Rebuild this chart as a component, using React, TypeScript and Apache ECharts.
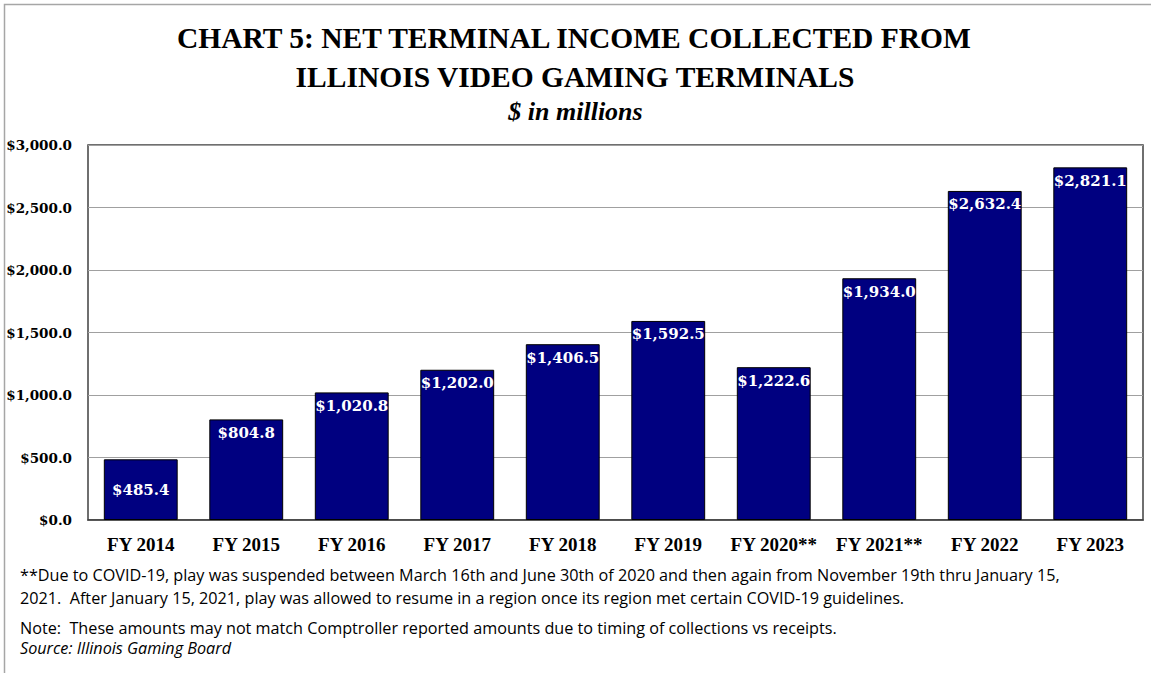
import React, { useEffect, useRef } from "react";
import * as echarts from "echarts";

const categories = ["FY 2014", "FY 2015", "FY 2016", "FY 2017", "FY 2018", "FY 2019", "FY 2020**", "FY 2021**", "FY 2022", "FY 2023"];
const values = [485.4, 804.8, 1020.8, 1202.0, 1406.5, 1592.5, 1222.6, 1934.0, 2632.4, 2821.1];
const titleLines = ["CHART 5: NET TERMINAL INCOME COLLECTED FROM", "ILLINOIS VIDEO GAMING TERMINALS"];
const subtitle = "$ in millions";
const footnotes = [
  "**Due to COVID-19, play was suspended between March 16th and June 30th of 2020 and then again from November 19th thru January 15,",
  "2021.  After January 15, 2021, play was allowed to resume in a region once its region met certain COVID-19 guidelines.",
];
const note = "Note:  These amounts may not match Comptroller reported amounts due to timing of collections vs receipts.";
const source = "Source: Illinois Gaming Board";

const fmt = (v: number) =>
  "$" + v.toLocaleString("en-US", { minimumFractionDigits: 1, maximumFractionDigits: 1 });

export default function App() {
  const ref = useRef<HTMLDivElement>(null);
  useEffect(() => {
    const chart = echarts.init(ref.current!, null, { renderer: "svg" });
    const serif = "'Liberation Serif', 'Times New Roman', serif";
    const dserif = "'DejaVu Serif', serif";
    const sans = "'Open Sans', Lato, sans-serif";
    chart.setOption({
      animation: false,
      backgroundColor: "#ffffff",
      grid: { left: 88, right: 8, top: 145, bottom: 153, show: true, borderColor: "#404040", borderWidth: 1.5, backgroundColor: "transparent" },
      xAxis: {
        type: "category",
        data: categories,
        axisLine: { show: true, lineStyle: { color: "#404040", width: 1.5 } },
        axisTick: { show: false },
        axisLabel: { interval: 0, color: "#000", fontFamily: serif, fontWeight: "bold", fontSize: 19, margin: 15 },
      },
      yAxis: {
        type: "value",
        min: 0,
        max: 3000,
        interval: 500,
        axisLine: { show: false },
        axisTick: { show: false },
        splitLine: { lineStyle: { color: "#a0a0a0", width: 1 } },
        axisLabel: { color: "#000", fontFamily: dserif, fontWeight: "bold", fontSize: 13.5, margin: 16, formatter: (v: number) => fmt(v) },
      },
      series: [
        {
          type: "bar",
          barWidth: "70%",
          data: values.map((v, i) => ({
            value: v,
            label: i === 0 ? { position: "inside" } : undefined,
          })),
          itemStyle: { color: "#000080", borderColor: "#000", borderWidth: 1 },
          label: {
            show: true,
            position: "insideTop",
            distance: 6,
            color: "#ffffff",
            fontFamily: dserif,
            fontWeight: "bold",
            fontSize: 15,
            formatter: (p: any) => fmt(p.value),
          },
        },
      ],
      graphic: [
        { type: "polyline", shape: { points: [[4.5, 673], [4.5, 4.5], [1151, 4.5]] }, style: { stroke: "#a6a6a6", lineWidth: 1.5, fill: "none" }, silent: true },
        { type: "text", left: "center", top: 23, style: { text: titleLines[0], font: `bold 29.5px ${serif}`, fill: "#000" } },
        { type: "text", left: "center", top: 62, style: { text: titleLines[1], font: `bold 29.5px ${serif}`, fill: "#000" } },
        { type: "text", left: "center", top: 98, style: { text: subtitle, font: `italic bold 26px ${serif}`, fill: "#000" } },
        { type: "text", left: 20, top: 567, style: { text: footnotes[0], font: `16.2px ${sans}`, fill: "#000" } },
        { type: "text", left: 20, top: 590, style: { text: footnotes[1], font: `16.2px ${sans}`, fill: "#000" } },
        { type: "text", left: 20, top: 620, style: { text: note, font: `16.2px ${sans}`, fill: "#000" } },
        { type: "text", left: 20, top: 640, style: { text: source, font: `italic 16.2px ${sans}`, fill: "#000" } },
      ],
    });
    return () => chart.dispose();
  }, []);
  return <div ref={ref} style={{ position: "fixed", left: 0, top: 0, width: 1151, height: 673 }} />;
}
